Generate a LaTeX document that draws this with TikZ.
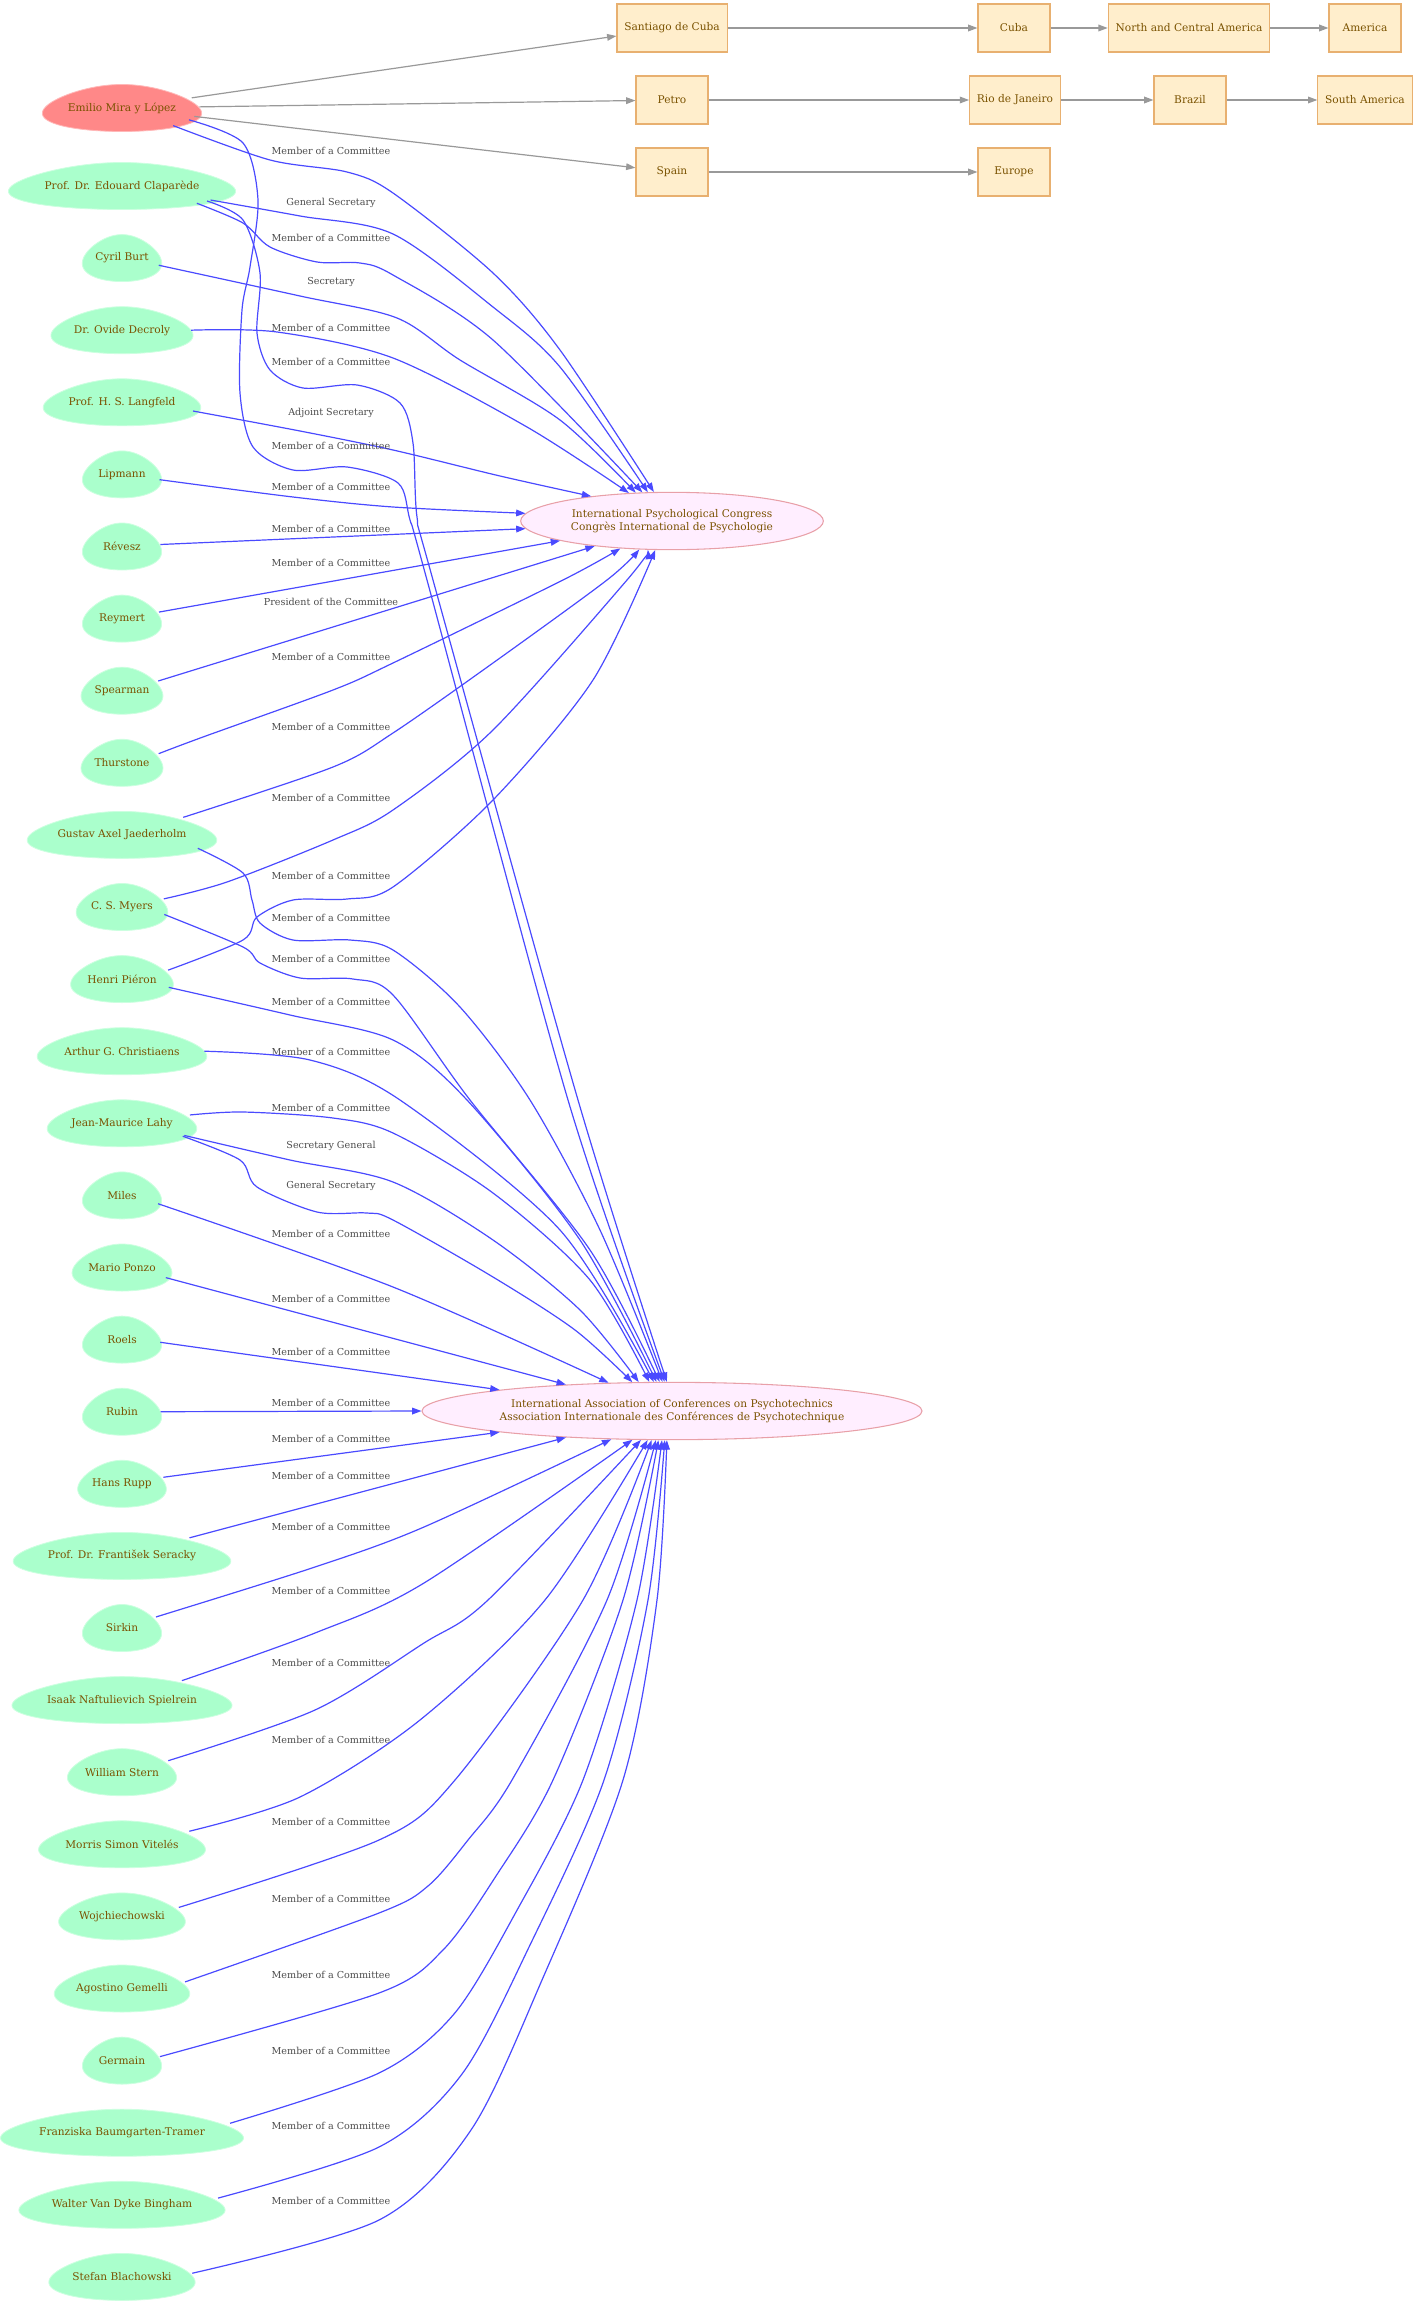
\documentclass[tikz,border=0pt]{standalone}
\usepackage{fontspec}
\setmainfont{DejaVu Serif}
\usetikzlibrary{positioning,calc,arrows.meta,shapes.geometric}
\pgfdeclarelayer{l1}
\pgfsetlayers{l1,main}
\definecolor{pgreen}{HTML}{AAFFCC}
\definecolor{pred}{HTML}{FF8888}
\definecolor{pbrown}{HTML}{7A5200}
\definecolor{boxfill}{HTML}{FFEECC}
\definecolor{boxline}{HTML}{E8B070}
\definecolor{orgfill}{HTML}{FFEEFF}
\definecolor{orgline}{HTML}{E8A0A8}
\definecolor{linkblue}{HTML}{4A4AFF}
\definecolor{linkgrey}{HTML}{999999}
\definecolor{lblgrey}{HTML}{4D4D4D}
\newcommand{\nodesize}{\fontsize{7.95}{9.8}\selectfont}
\newcommand{\lblsize}{\fontsize{7.2}{8.6}\selectfont}
\tikzstyle{person} = [ellipse, minimum width=57.75pt, minimum height=35.25pt,
    inner xsep=0.5pt, inner ysep=0pt, outer sep=0pt, text=pbrown, font=\nodesize]
\tikzstyle{under} = [below=18.825pt of #1]
\tikzstyle{org} = [ellipse, draw=orgline, fill=orgfill, line width=0.8pt,
    minimum height=43pt, inner sep=0pt, align=center, text=pbrown, font=\nodesize]
\tikzstyle{place} = [rectangle, draw=boxline, fill=boxfill, line width=0.8pt,
    minimum width=54pt, minimum height=36pt, inner xsep=5.5pt, text=pbrown, font=\nodesize]
\tikzstyle{lbl} = [text=lblgrey, font=\lblsize, inner sep=1pt]
\tikzstyle{link} = [linkblue, line width=0.9pt, -{Triangle[length=7pt,width=5pt]}]
\tikzstyle{loc} = [linkgrey, line width=0.9pt, -{Triangle[length=7pt,width=5pt]}]
\newcommand{\egg}[2]{
  \begin{pgfonlayer}{l1}
  \path[fill=#2, draw=#2!60!white, line width=0.6pt]
    let \p1=(#1.east), \p2=(#1.north), \p3=(#1.center) in
    plot[variable=\t, domain=0:360, samples=73]
    ({\x3+(\x1-\x3)*cos(\t)*(1-0.25*sin(\t))}, {\y3+(\y2-\y3)*sin(\t)}) -- cycle;
  \end{pgfonlayer}
}
\newcommand{\person}[3]{
  \node[person, #2] (#1) {#3};
  \egg{#1}{pgreen}
}
\newcommand{\rel}[4]{
  \node[lbl] (#1) at (331,#2) {#3};
  \draw[link] plot[smooth] coordinates {#4};
}

\begin{document}
\begin{tikzpicture}[x=0.75pt, y=-0.75pt]

\begin{pgfonlayer}{l1}
\fill[white] (0,0) rectangle (1417,2304);
\end{pgfonlayer}
\useasboundingbox (0,0) rectangle (1417,2304);

% places
\node[place] (SantiagoDeCuba) at (672,28) {Santiago de Cuba};
\node[place] (Cuba) at (1014,28) {Cuba};
\node[place] (NorthCentralAmerica) at (1189,28) {North and Central America};
\node[place] (America) at (1365,28) {America};
\node[place] (Petro) at (672,100) {Petro};
\node[place] (RioDeJaneiro) at (1015,100) {Rio de Janeiro};
\node[place] (Brazil) at (1190,100) {Brazil};
\node[place] (SouthAmerica) at (1365,100) {South America};
\node[place] (Spain) at (672,172) {Spain};
\node[place] (Europe) at (1014,172) {Europe};

% organisations
\node[org, minimum width=227pt] (IPC) at (672,521)
  {International Psychological Congress\\Congrès International de Psychologie};
\node[org, minimum width=375pt] (IACP) at (672,1411)
  {International Association of Conferences on Psychotechnics\\
   Association Internationale des Conférences de Psychotechnique};

% people
\node[person] (Emilio) at (122,108) {Emilio Mira y López};
\egg{Emilio}{pred}
\person{Claparede}{at={(122,186)}}{Prof. Dr. Edouard Claparède}
\person{Burt}{under=Claparede}{Cyril Burt}
\person{Decroly}{under=Burt}{Dr. Ovide Decroly}
\person{Langfeld}{under=Decroly}{Prof. H. S. Langfeld}
\person{Lipmann}{under=Langfeld}{Lipmann}
\person{Revesz}{under=Lipmann}{Révesz}
\person{Reymert}{under=Revesz}{Reymert}
\person{Spearman}{under=Reymert}{Spearman}
\person{Thurstone}{under=Spearman}{Thurstone}
\person{Jaederholm}{under=Thurstone}{Gustav Axel Jaederholm}
\person{Myers}{under=Jaederholm}{C. S. Myers}
\person{Pieron}{under=Myers}{Henri Piéron}
\person{Christiaens}{under=Pieron}{Arthur G. Christiaens}
\person{Lahy}{under=Christiaens}{Jean-Maurice Lahy}
\person{Miles}{under=Lahy}{Miles}
\person{Ponzo}{under=Miles}{Mario Ponzo}
\person{Roels}{under=Ponzo}{Roels}
\person{Rubin}{under=Roels}{Rubin}
\person{Rupp}{under=Rubin}{Hans Rupp}
\person{Seracky}{under=Rupp}{Prof. Dr. František Seracky}
\person{Sirkin}{under=Seracky}{Sirkin}
\person{Spielrein}{under=Sirkin}{Isaak Naftulievich Spielrein}
\person{Stern}{under=Spielrein}{William Stern}
\person{Viteles}{under=Stern}{Morris Simon Vitelés}
\person{Wojchiechowski}{under=Viteles}{Wojchiechowski}
\person{Gemelli}{under=Wojchiechowski}{Agostino Gemelli}
\person{Germain}{under=Gemelli}{Germain}
\person{Baumgarten}{under=Germain}{Franziska Baumgarten-Tramer}
\person{Bingham}{under=Baumgarten}{Walter Van Dyke Bingham}
\person{Blachowski}{under=Bingham}{Stefan Blachowski}

% places of Emilio
\draw[loc] (Emilio) -- (SantiagoDeCuba);
\draw[loc] (Emilio) -- (Petro);
\draw[loc] (Emilio) -- (Spain);
\draw[loc] (SantiagoDeCuba) -- (Cuba);
\draw[loc] (Cuba) -- (NorthCentralAmerica);
\draw[loc] (NorthCentralAmerica) -- (America);
\draw[loc] (Petro) -- (RioDeJaneiro);
\draw[loc] (RioDeJaneiro) -- (Brazil);
\draw[loc] (Brazil) -- (SouthAmerica);
\draw[loc] (Spain) -- (Europe);

% congress
\rel{m1}{151}{Member of a Committee}{(Emilio.341) (270,160) (347,172) (393,193) (493,273) (560,350) (IPC.122)}
\rel{m2}{203}{General Secretary}{(Claparede.351) (300,216) (393,234) (493,307) (560,367) (IPC.130)}
\rel{m3}{238}{Member of a Committee}{(Claparede.347) (243,223) (270,247) (317,262) (360,263) (393,275) (493,340) (IPC.136)}
\rel{m4}{282}{Secretary}{(Burt.349) (300,296) (397,318) (460,360) (560,420) (IPC.142)}
\rel{m5}{328}{Member of a Committee}{(Decroly.0) (277,332) (393,358) (527,427) (IPC.147)}
\rel{m6}{413}{Adjoint Secretary}{(Langfeld.353) (300,431) (393,450) (500,476) (IPC.163)}
\rel{m7}{487}{Member of a Committee}{(Lipmann.352) (293,497) (393,507) (IPC.177)}
\rel{m8}{529}{Member of a Committee}{(Revesz.3) (IPC.183)}
\rel{m9}{563}{Member of a Committee}{(Reymert.10) (IPC.190)}
\rel{m10}{602}{President of the Committee}{(Spearman.15) (IPC.198)}
\rel{m11}{657}{Member of a Committee}{(Thurstone.14) (203,737) (333,690) (393,663) (563,580) (IPC.208)}
\rel{m12}{727}{Member of a Committee}{(Jaederholm.16) (333,767) (393,733) (493,663) (607,580) (IPC.221)}
\rel{m13}{798}{Member of a Committee}{(Myers.11) (227,882) (333,840) (393,810) (493,730) (627,580) (IPC.230)}
\rel{m14}{876}{Member of a Committee}{(Pieron.11) (243,940) (257,917) (293,900) (347,899) (393,887) (493,800) (593,680) (IPC.240)}

% psychotechnics
\rel{m15}{446}{Member of a Committee}{(Emilio.350) (243,143) (258,200) (250,267) (242,310) (240,393) (253,447) (293,470) (347,467) (398,483) (410,520) (427,580) (568,1100) (IACP.104)}
\rel{m16}{362}{Member of a Committee}{(Claparede.350) (243,220) (260,273) (257,333) (270,370) (303,388) (357,385) (400,403) (413,443) (417,517) (433,580) (578,1100) (IACP.100)}
\rel{m17}{918}{Member of a Committee}{(Jaederholm.350) (243,873) (252,900) (260,923) (293,940) (350,940) (393,950) (460,1007) (530,1100) (600,1230) (IACP.108)}
\rel{m18}{959}{Member of a Committee}{(Myers.350) (243,947) (260,963) (300,978) (353,979) (393,995) (470,1100) (590,1250) (IACP.113)}
\rel{m19}{1002}{Member of a Committee}{(Pieron.350) (290,1015) (393,1040) (467,1100) (580,1240) (IACP.118)}
\rel{m20}{1052}{Member of a Committee}{(Christiaens.0) (310,1060) (400,1100) (560,1230) (IACP.122)}
\rel{m21}{1108}{Member of a Committee}{(Lahy.7) (243,1112) (333,1118) (393,1133) (493,1193) (590,1280) (IACP.128)}
\rel{m22}{1146}{Secretary General}{(Lahy.349) (290,1160) (393,1182) (493,1240) (580,1310) (IACP.139)}
\rel{m23}{1186}{General Secretary}{(Lahy.348) (240,1160) (257,1187) (317,1212) (367,1213) (393,1220) (493,1277) (575,1330) (IACP.144)}
\rel{m24}{1234}{Member of a Committee}{(Miles.347) (393,1287) (IACP.156)}
\rel{m25}{1299}{Member of a Committee}{(Ponzo.347) (IACP.166)}
\rel{m26}{1352}{Member of a Committee}{(Roels.356) (IACP.173)}
\rel{m27}{1403}{Member of a Committee}{(Rubin.0) (IACP.180)}
\rel{m28}{1439}{Member of a Committee}{(Rupp.9) (IACP.187)}
\rel{m29}{1476}{Member of a Committee}{(Seracky.15) (IACP.194)}
\rel{m30}{1527}{Member of a Committee}{(Sirkin.18) (315,1567) (424,1527) (IACP.205)}
\rel{m31}{1591}{Member of a Committee}{(Spielrein.18) (315,1633) (424,1583) (IACP.216)}
\rel{m32}{1663}{Member of a Committee}{(Stern.14) (315,1710) (424,1643) (488,1600) (IACP.223)}
\rel{m33}{1740}{Member of a Committee}{(Viteles.11) (300,1797) (420,1720) (545,1600) (IACP.230)}
\rel{m34}{1822}{Member of a Committee}{(Wojchiechowski.9) (379,1840) (455,1780) (583,1600) (IACP.235)}
\rel{m35}{1899}{Member of a Committee}{(Gemelli.6) (379,1913) (428,1886) (468,1840) (512,1780) (607,1600) (IACP.241)}
\rel{m36}{1975}{Member of a Committee}{(Germain.6) (379,1993) (443,1950) (496,1876) (553,1780) (623,1600) (IACP.245)}
\rel{m37}{2051}{Member of a Committee}{(Baumgarten.5) (379,2073) (454,2014) (516,1912) (583,1780) (637,1600) (IACP.251)}
\rel{m38}{2126}{Member of a Committee}{(Bingham.4) (379,2147) (462,2074) (530,1945) (604,1780) (648,1600) (IACP.256)}
\rel{m39}{2201}{Member of a Committee}{(Blachowski.3) (379,2220) (471,2130) (542,1980) (623,1780) (657,1600) (IACP.260)}

\end{tikzpicture}
\end{document}
